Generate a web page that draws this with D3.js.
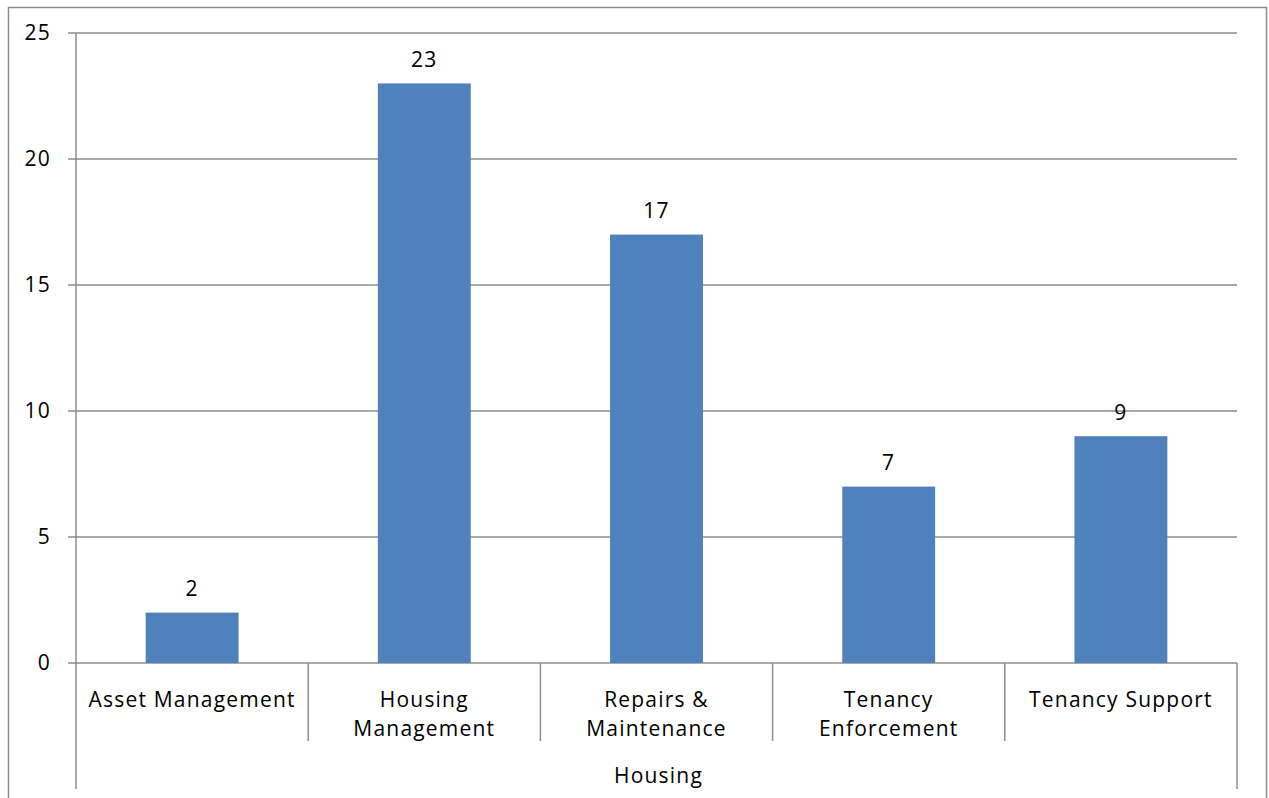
<!DOCTYPE html>
<html><head><meta charset="utf-8">
<script src="https://cdn.jsdelivr.net/npm/d3@7"></script>
<style>body{margin:0;background:#fff}svg{display:block}text{font-family:"Open Sans",sans-serif;fill:#000;letter-spacing:1.2px}</style>
</head><body><svg id="c" width="1269" height="798"></svg>
<script>
const categories = ["Asset Management","Housing Management","Repairs & Maintenance","Tenancy Enforcement","Tenancy Support"];
const categoryLines = [["Asset Management"],["Housing","Management"],["Repairs &","Maintenance"],["Tenancy","Enforcement"],["Tenancy Support"]];
const values = [2,23,17,7,9];
const groupLabel = "Housing";
const yTicks = [0,5,10,15,20,25];

const svg = d3.select("#c");
const L=76,R=1237,T=33,B=663;
const FS=21;
const x = d3.scaleBand().domain(categories).range([L,R]).paddingInner(0).paddingOuter(0);
const y = d3.scaleLinear().domain([0,25]).range([B,T]);
const grid="#8c8c8c";

svg.append("rect").attr("x",8.5).attr("y",7.5).attr("width",1258).attr("height",800).attr("fill","none").attr("stroke",grid).attr("stroke-width",1.5);

// gridlines
svg.append("g").selectAll("line").data(yTicks).join("line")
 .attr("x1",L-8).attr("x2",R).attr("y1",d=>y(d)).attr("y2",d=>y(d)).attr("stroke",grid).attr("stroke-width",1.5);
svg.append("g").selectAll("text").data(yTicks).join("text")
 .attr("x",51).attr("y",d=>y(d)).attr("dy","0.35em").attr("text-anchor","end").attr("font-size",FS).text(d=>d);

// left axis and right edge extended
svg.append("line").attr("x1",L).attr("x2",L).attr("y1",T).attr("y2",789).attr("stroke",grid).attr("stroke-width",1.5);
svg.append("line").attr("x1",R).attr("x2",R).attr("y1",B).attr("y2",789).attr("stroke",grid).attr("stroke-width",1.5);
// category separators
svg.append("g").selectAll("line").data(categories.slice(1)).join("line")
 .attr("x1",d=>x(d)).attr("x2",d=>x(d)).attr("y1",B).attr("y2",741).attr("stroke",grid).attr("stroke-width",1.5);

// bars
const bw = x.bandwidth()*0.4;
svg.append("g").selectAll("rect").data(values).join("rect")
 .attr("x",(d,i)=>x(categories[i])+x.bandwidth()/2-bw/2).attr("width",bw)
 .attr("y",d=>y(d)).attr("height",d=>B-y(d)).attr("fill","#4F81BD");
svg.append("g").selectAll("text").data(values).join("text")
 .attr("x",(d,i)=>x(categories[i])+x.bandwidth()/2).attr("y",d=>y(d)-24).attr("dy","0.35em")
 .attr("text-anchor","middle").attr("font-size",FS).text(d=>d);

// category labels
const cl = svg.append("g").selectAll("text").data(categoryLines).join("text")
 .attr("x",(d,i)=>x(categories[i])+x.bandwidth()/2).attr("text-anchor","middle").attr("font-size",FS);
cl.selectAll("tspan").data(d=>d).join("tspan").attr("x",function(){return this.parentNode.getAttribute("x");})
 .attr("y",(d,j)=>700+j*29).attr("dy","0.35em").text(d=>d);

svg.append("text").attr("x",(L+R)/2+2).attr("y",776).attr("dy","0.35em").attr("text-anchor","middle").attr("font-size",FS).text(groupLabel);
</script></body></html>
